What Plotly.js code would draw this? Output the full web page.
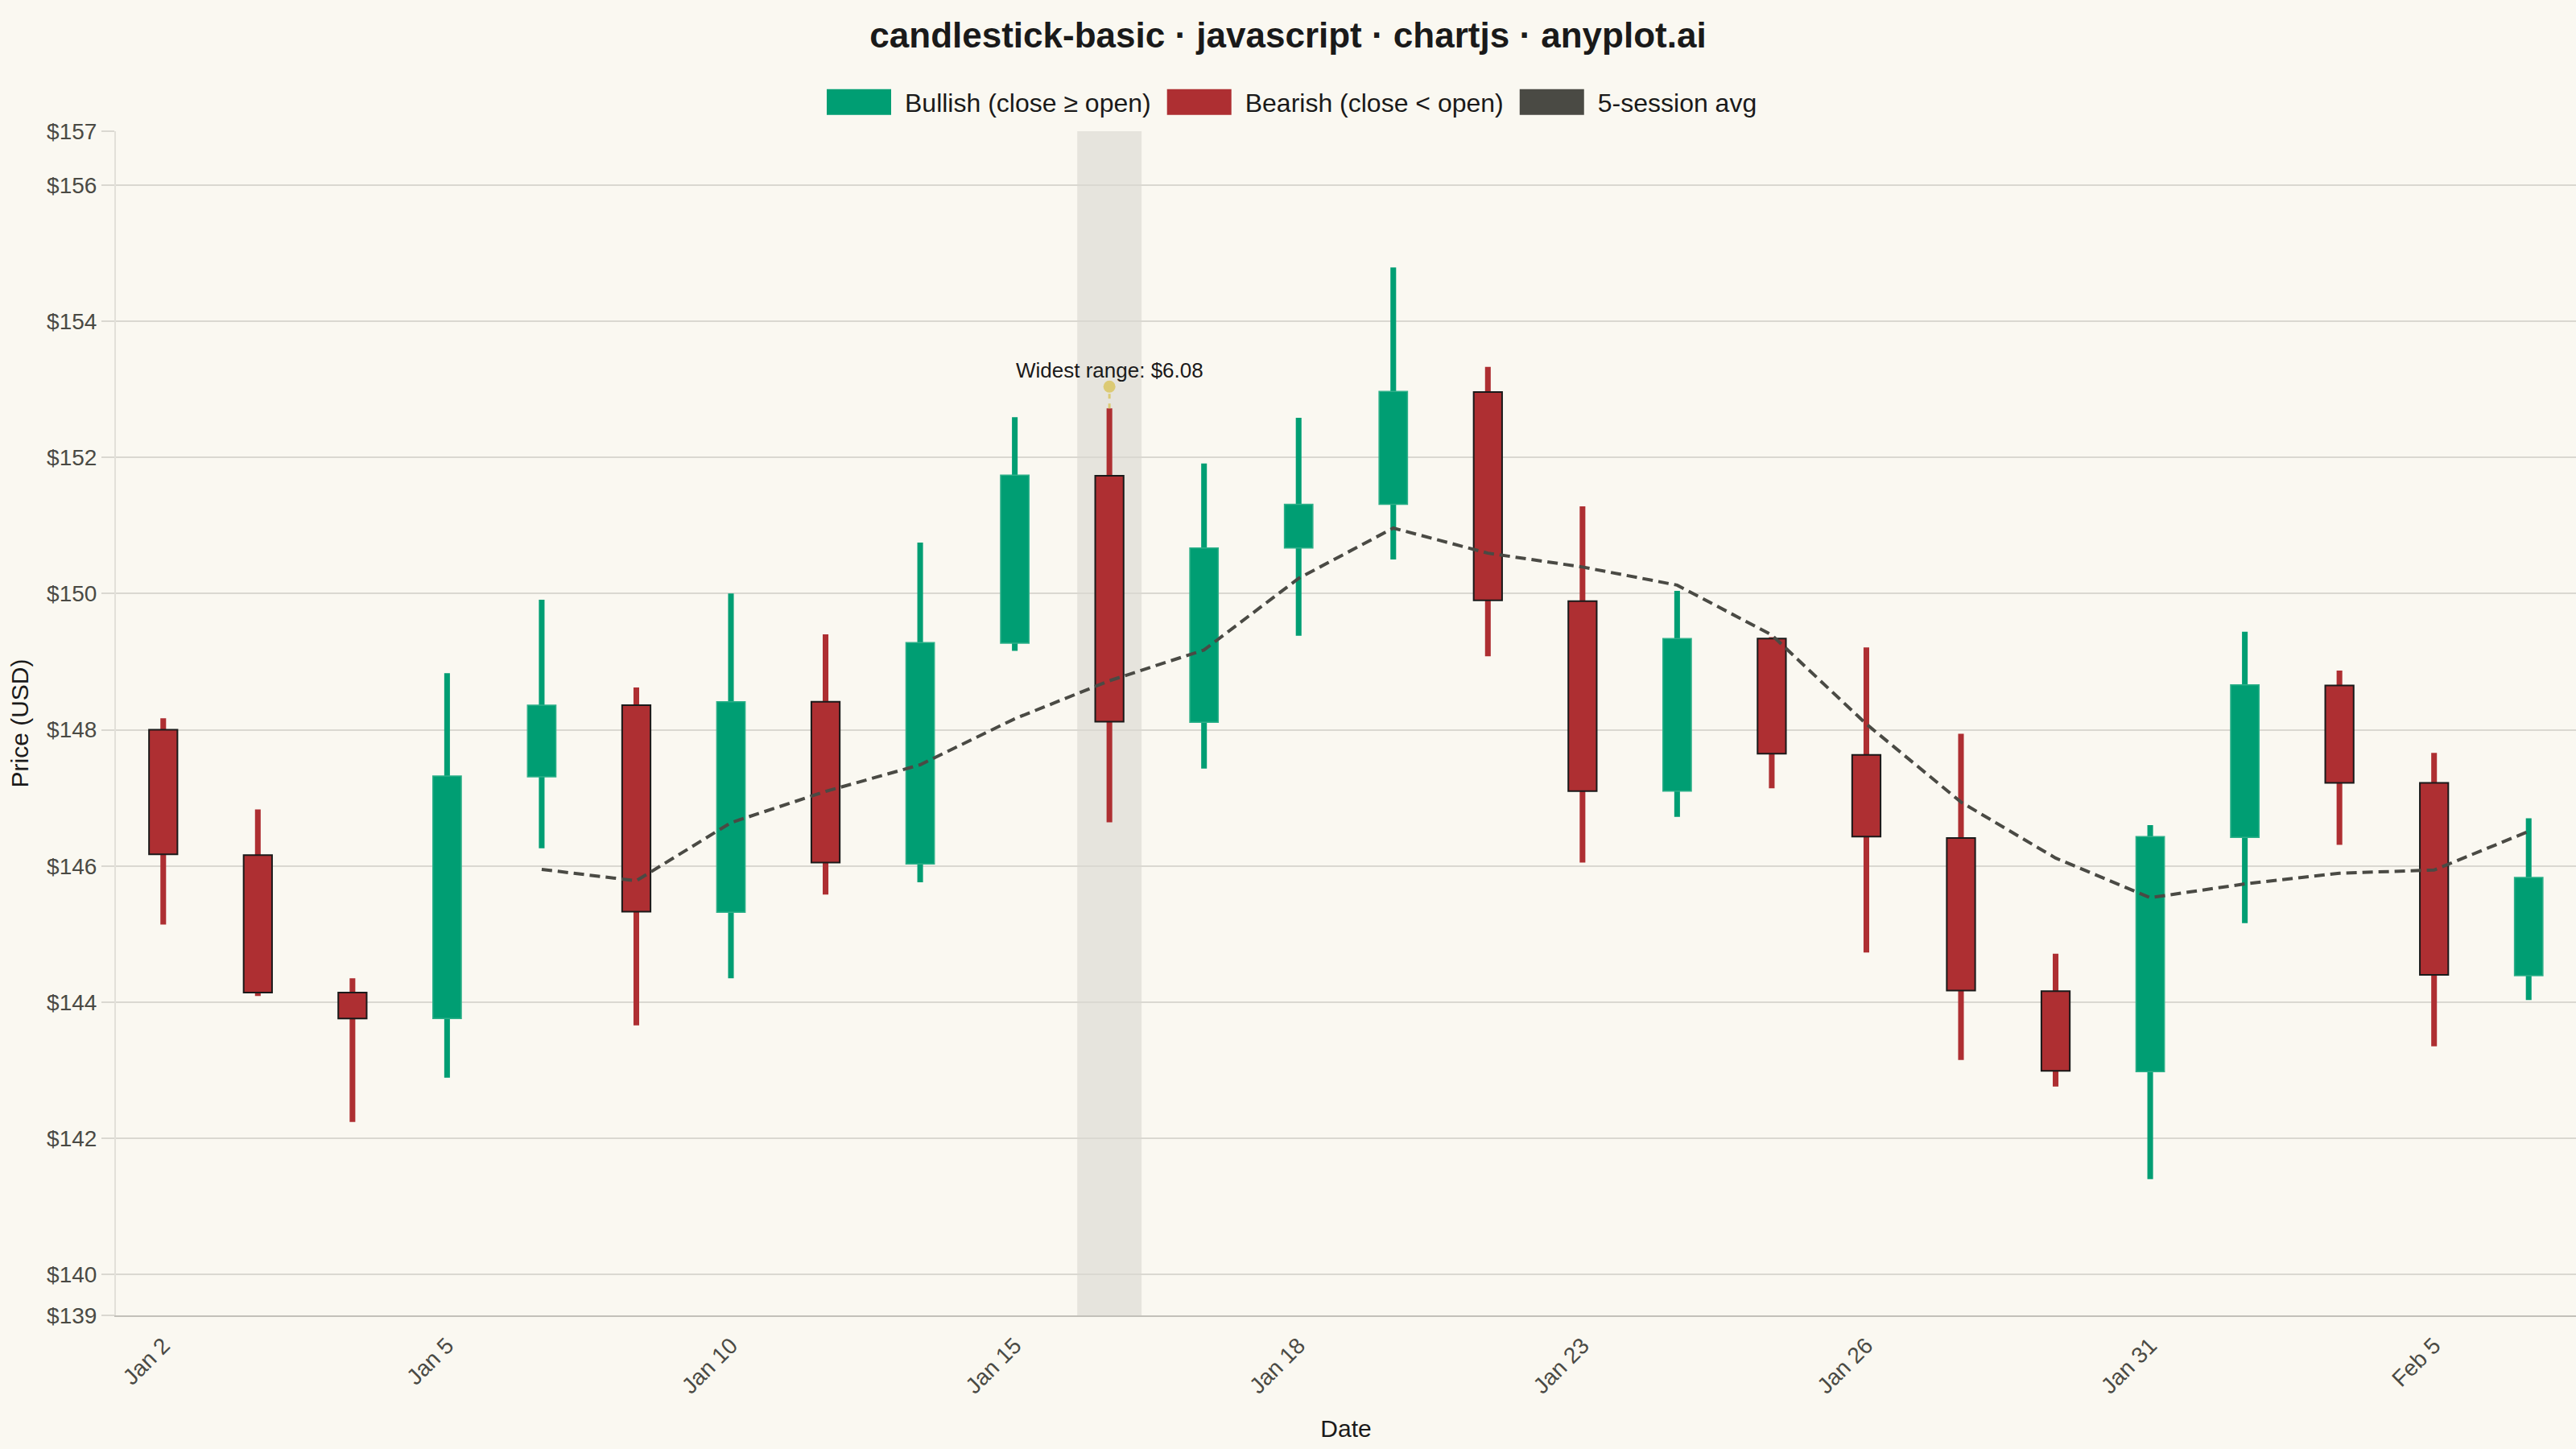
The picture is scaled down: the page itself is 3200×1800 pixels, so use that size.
<!DOCTYPE html>
<html>
<head>
<meta charset="utf-8">
<script src="https://cdn.plot.ly/plotly-3.0.1.min.js"></script>
<style>
  html, body { margin: 0; padding: 0; background: #FAF8F1; }
  #chart { width: 3200px; height: 1800px; }
</style>
</head>
<body>
<div id="chart"></div>
<script>
// daily sessions
const dates = ["Jan 2", "Jan 3", "Jan 4", "Jan 5", "Jan 8", "Jan 9", "Jan 10", "Jan 11", "Jan 12",
  "Jan 15", "Jan 16", "Jan 17", "Jan 18", "Jan 19", "Jan 22", "Jan 23", "Jan 24", "Jan 25",
  "Jan 26", "Jan 29", "Jan 30", "Jan 31", "Feb 1", "Feb 2", "Feb 5", "Feb 6"];
const opens = [148.00, 146.16, 144.14, 143.76, 147.31, 148.36, 145.32, 148.41, 146.03,
  149.27, 151.73, 148.11, 150.67, 151.31, 152.96, 149.89, 147.10, 149.34,
  147.63, 146.41, 144.16, 142.98, 146.42, 148.65, 147.22, 144.39];
const highs = [148.17, 146.83, 144.35, 148.83, 149.91, 148.62, 150.00, 149.40, 150.75,
  152.59, 152.72, 151.91, 152.58, 154.79, 153.33, 151.28, 150.04, 149.36,
  149.21, 147.94, 144.71, 146.60, 149.44, 148.87, 147.66, 146.70];
const lows = [145.14, 144.09, 142.24, 142.89, 146.26, 143.66, 144.35, 145.58, 145.76,
  149.16, 146.64, 147.43, 149.38, 150.50, 149.08, 146.05, 146.72, 147.14,
  144.73, 143.15, 142.76, 141.40, 145.16, 146.31, 143.35, 144.03];
const closes = [146.17, 144.14, 143.76, 147.32, 148.36, 145.33, 148.41, 146.05, 149.28,
  151.74, 148.12, 150.67, 151.31, 152.97, 149.90, 147.10, 149.34, 147.65,
  146.43, 144.17, 142.99, 146.43, 148.66, 147.22, 144.40, 145.83];
const tickDates = ["Jan 2", "Jan 5", "Jan 10", "Jan 15", "Jan 18", "Jan 23", "Jan 26", "Jan 31", "Feb 5"];

const GREEN = '#009E73';
const RED = '#AE2F32';
const INK = '#1A1A1A';
const SOFT = '#4A4A44';
const GRID = '#DAD8D1';
const GOLD = '#DCCA74';
const FONT = '"Liberation Sans", Arial, sans-serif';

const isUp = closes.map((c, i) => c >= opens[i]);

// 5-session simple moving average of the closes
const ma = closes.map((c, i) => {
  if (i < 4) return null;
  let s = 0;
  for (let k = i - 4; k <= i; k++) s += closes[k];
  return s / 5;
});

// widest high-low session
let wide = 0;
for (let i = 1; i < dates.length; i++) {
  if (highs[i] - lows[i] > highs[wide] - lows[wide]) wide = i;
}
const wideRange = highs[wide] - lows[wide];
const markY = highs[wide] + 0.32;

const yMin = Math.min(...lows) - 2;
const yMax = Math.max(...highs) + 2;
const tickVals = [yMin];
for (let v = Math.ceil(yMin / 2) * 2; v < yMax; v += 2) tickVals.push(v);
tickVals.push(yMax);
const tickText = tickVals.map(v => '$' + Math.round(v));

function wickTrace(up) {
  return {
    type: 'bar',
    x: dates,
    base: lows.map((l, i) => isUp[i] === up ? l : null),
    y: highs.map((h, i) => isUp[i] === up ? h - lows[i] : null),
    width: 0.06,
    marker: { color: up ? GREEN : RED, line: { width: 0 } },
    showlegend: false,
    hoverinfo: 'skip'
  };
}

function bodyTrace(up) {
  return {
    type: 'bar',
    name: up ? 'Bullish (close ≥ open)' : 'Bearish (close < open)',
    x: dates,
    base: opens.map((o, i) => isUp[i] === up ? Math.min(o, closes[i]) : null),
    y: opens.map((o, i) => isUp[i] === up ? Math.abs(closes[i] - o) : null),
    width: 0.3,
    marker: {
      color: up ? GREEN : RED,
      line: { color: up ? '#2DB089' : INK, width: up ? 1.5 : 2 }
    }
  };
}

const data = [
  {
    type: 'scatter',
    mode: 'lines',
    x: dates,
    y: ma,
    line: { color: SOFT, width: 4, dash: '13px,7px' },
    showlegend: false,
    hoverinfo: 'skip'
  },
  wickTrace(true),
  wickTrace(false),
  bodyTrace(true),
  bodyTrace(false),
  {
    // legend entry for the average (box style like the other two)
    type: 'bar',
    name: '5-session avg',
    x: [null],
    y: [null],
    marker: { color: SOFT }
  },
  {
    type: 'scatter',
    mode: 'markers',
    x: [dates[wide]],
    y: [markY],
    marker: { color: GOLD, size: 15 },
    showlegend: false,
    hoverinfo: 'skip'
  }
];

const layout = {
  width: 3200,
  height: 1800,
  paper_bgcolor: '#FAF8F1',
  plot_bgcolor: '#FAF8F1',
  font: { family: FONT, color: INK },
  margin: { l: 144, r: 0, t: 163, b: 166, pad: 0 },
  barmode: 'overlay',
  title: {
    text: '<b>candlestick-basic · javascript · chartjs · anyplot.ai</b>',
    font: { family: FONT, size: 44, color: INK },
    x: 0.5, xref: 'container', xanchor: 'center',
    y: 1 - 44 / 1800, yref: 'container', yanchor: 'middle'
  },
  legend: {
    orientation: 'h',
    xref: 'container', x: 0.5, xanchor: 'center',
    yref: 'container', y: 1 - 127 / 1800, yanchor: 'middle',
    font: { family: FONT, size: 32, color: INK },
    itemwidth: 102,
    traceorder: 'normal',
    bgcolor: 'rgba(0,0,0,0)'
  },
  xaxis: {
    type: 'category',
    categoryorder: 'array',
    categoryarray: dates,
    range: [-0.5, dates.length - 0.5],
    tickvals: tickDates,
    ticktext: tickDates,
    tickangle: -45,
    tickfont: { family: FONT, size: 28, color: SOFT },
    ticklabelstandoff: 8,
    ticks: '',
    showgrid: false,
    showline: true,
    linecolor: '#C2C0B9',
    linewidth: 2,
    zeroline: false,
    title: { text: 'Date', font: { family: FONT, size: 30, color: INK }, standoff: 28 }
  },
  yaxis: {
    range: [yMin, yMax],
    tickvals: tickVals,
    ticktext: tickText,
    tickfont: { family: FONT, size: 28, color: SOFT },
    ticks: 'outside',
    ticklen: 16,
    tickwidth: 2,
    tickcolor: GRID,
    gridcolor: GRID,
    gridwidth: 2,
    showline: true,
    linecolor: '#E2E0D9',
    linewidth: 2,
    zeroline: false,
    title: { text: 'Price (USD)', font: { family: FONT, size: 30, color: INK }, standoff: 14 }
  },
  shapes: [
    {
      type: 'rect', layer: 'below',
      xref: 'x', yref: 'paper',
      x0: wide - 0.34, x1: wide + 0.34, y0: 0, y1: 1,
      fillcolor: 'rgba(74,74,68,0.11)',
      line: { width: 0 }
    },
    {
      type: 'line',
      xref: 'x', yref: 'y',
      x0: wide, x1: wide, y0: highs[wide], y1: markY,
      line: { color: GOLD, width: 3, dash: '6px,6px' }
    }
  ],
  annotations: [
    {
      x: dates[wide], y: markY, xref: 'x', yref: 'y',
      text: 'Widest range: $' + wideRange.toFixed(2),
      showarrow: false,
      yanchor: 'bottom',
      yshift: 3,
      font: { family: FONT, size: 26, color: INK }
    }
  ]
};

Plotly.newPlot('chart', data, layout, { staticPlot: true }).then(gd => {
  // Chart.js style wide legend boxes
  gd.querySelectorAll('.legend .traces .legendpoints path').forEach(p => {
    p.setAttribute('d', 'M-41,-16H39V16H-41Z');
    p.style.strokeWidth = '0';
  });
});
</script>
</body>
</html>
